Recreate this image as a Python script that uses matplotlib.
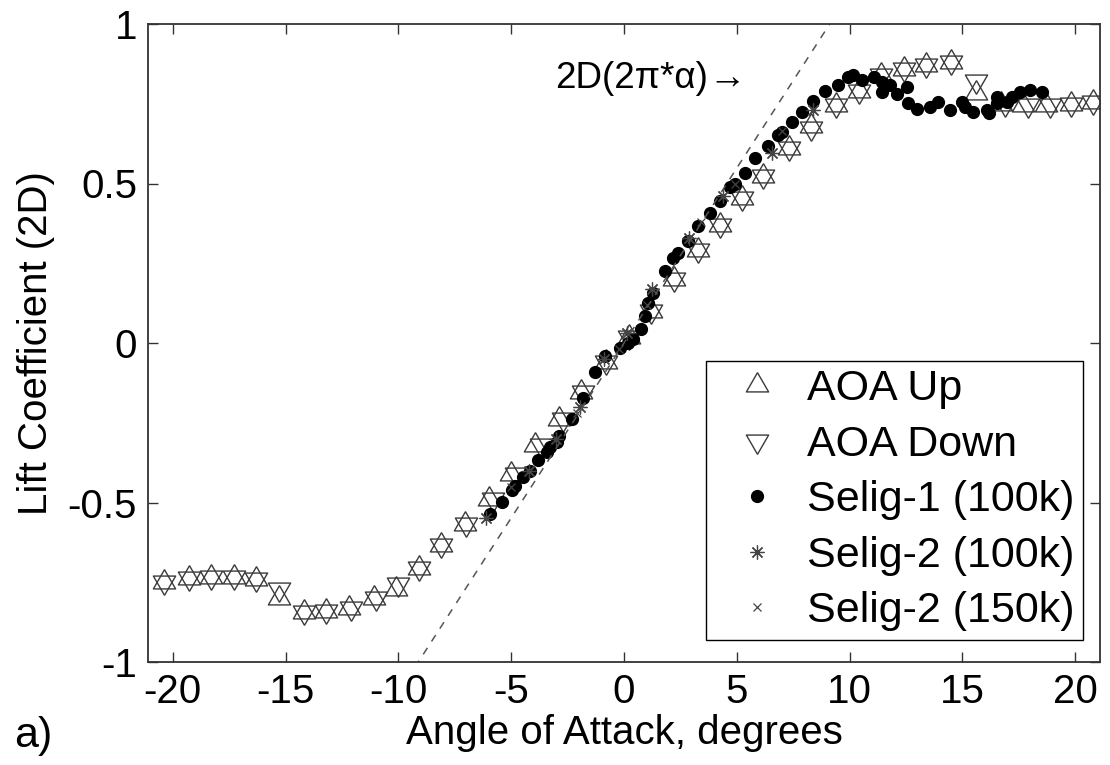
import matplotlib
matplotlib.use("Agg")
import matplotlib.pyplot as plt
import numpy as np

plt.rcParams['font.family'] = ['Liberation Sans', 'DejaVu Sans']
plt.rcParams['axes.unicode_minus'] = False

# wind tunnel sweeps (angle of attack in degrees, lift coefficient)
aoa_up_x = [-20.4, -19.3, -18.3, -17.3, -16.3, -15.3, -14.2, -13.2, -12.2, -11.1,
            -10.1, -9.1, -8.1, -7.05, -6.0, -5.0, -3.95, -2.9, -1.9, -0.8,
            0.2, 1.2, 2.2, 3.3, 4.26, 5.22, 6.15, 7.3, 8.3, 9.4,
            10.4, 11.4, 12.4, 13.4, 14.5, 15.6, 16.7, 17.7, 18.7, 19.8, 20.8]
aoa_up_cl = [-0.750, -0.738, -0.733, -0.735, -0.740, -0.800, -0.843, -0.840, -0.832, -0.800,
             -0.770, -0.704, -0.634, -0.567, -0.490, -0.410, -0.320, -0.238, -0.155, -0.060,
             0.020, 0.100, 0.200, 0.290, 0.370, 0.455, 0.525, 0.610, 0.680, 0.745,
             0.790, 0.840, 0.860, 0.870, 0.880, 0.785, 0.750, 0.745, 0.745, 0.750, 0.755]

aoa_down_x = [-20.4, -19.3, -18.3, -17.3, -16.3, -15.3, -14.2, -13.2, -12.1, -11.0,
              -10.0, -9.1, -8.1, -7.0, -5.8, -4.8, -3.7, -2.7, -1.8, -0.8,
              0.2, 1.2, 2.2, 3.3, 4.26, 5.22, 6.15, 7.3, 8.3, 9.4,
              10.4, 11.4, 12.4, 13.4, 14.5, 15.6, 16.9, 17.9, 18.9, 19.8, 20.8]
aoa_down_cl = [-0.750, -0.738, -0.733, -0.735, -0.740, -0.770, -0.843, -0.840, -0.832, -0.800,
               -0.755, -0.704, -0.634, -0.567, -0.490, -0.410, -0.320, -0.238, -0.155, -0.060,
               0.020, 0.100, 0.200, 0.290, 0.370, 0.455, 0.525, 0.610, 0.675, 0.745,
               0.790, 0.840, 0.860, 0.870, 0.880, 0.820, 0.750, 0.745, 0.745, 0.750, 0.755]

selig1_x = [-5.94, -5.42, -4.98, -4.83, -4.47, -4.17, -3.80, -3.43, -3.28, -2.98,
            -2.87, -2.32, -1.80, -1.29, -0.84, -0.18, 0.19, 0.41, 0.75, 0.93,
            1.08, 1.30, 1.82, 2.19, 2.41, 2.85, 3.30, 3.81, 4.26, 4.70,
            4.92, 5.37, 5.81, 6.40, 6.84, 7.00, 7.44, 7.88, 8.40, 8.91,
            9.50, 9.95, 10.17, 10.54, 11.06, 11.43, 11.43, 11.80, 12.09, 12.54,
            12.61, 12.98, 13.57, 13.94, 14.46, 14.97, 15.12, 15.49, 16.08, 16.16,
            16.53, 16.53, 16.97, 17.19, 17.56, 18.00, 18.52]
selig1_cl = [-0.535, -0.497, -0.462, -0.447, -0.420, -0.400, -0.366, -0.343, -0.327, -0.310,
             -0.290, -0.238, -0.171, -0.090, -0.040, -0.015, 0.001, 0.011, 0.043, 0.084,
             0.126, 0.157, 0.225, 0.267, 0.282, 0.319, 0.366, 0.407, 0.444, 0.490,
             0.500, 0.532, 0.579, 0.616, 0.652, 0.660, 0.694, 0.725, 0.760, 0.790,
             0.810, 0.834, 0.840, 0.824, 0.834, 0.819, 0.788, 0.808, 0.782, 0.803,
             0.751, 0.735, 0.741, 0.756, 0.730, 0.756, 0.741, 0.725, 0.730, 0.720,
             0.772, 0.751, 0.756, 0.772, 0.788, 0.793, 0.788]

selig2_100_x = [-6.1, -4.2, -3.0, -1.95, -0.9, 0.12, 1.23, 2.9, 4.4, 6.54, 8.4]
selig2_100_cl = [-0.550, -0.400, -0.300, -0.200, -0.050, 0.030, 0.168, 0.330, 0.460, 0.595, 0.730]

selig2_150_x = [-5.0, -2.1, -0.2, 1.0, 3.4, 4.9, 7.0]
selig2_150_cl = [-0.450, -0.220, -0.020, 0.120, 0.380, 0.500, 0.665]

# triangles centred on their centroid so up+down overlap into a star
tri_up = [(0, 1), (-0.866, -0.5), (0.866, -0.5), (0, 1)]
tri_down = [(0, -1), (-0.866, 0.5), (0.866, 0.5), (0, -1)]

fig = plt.figure(figsize=(11.1, 7.65), dpi=100)
ax = fig.add_axes([148 / 1110, 1 - 662 / 765, 952 / 1110, 638 / 765])

tri_kw = dict(linestyle='none', markersize=18.5, markerfacecolor='none',
              markeredgecolor='#3a3a3a', markeredgewidth=1.0)
ax.plot(aoa_up_x, aoa_up_cl, marker=tri_up, label='AOA Up', **tri_kw)
ax.plot(aoa_down_x, aoa_down_cl, marker=tri_down, label='AOA Down', **tri_kw)
ax.plot(selig1_x, selig1_cl, 'o', color='black', markersize=8.5, label='Selig-1 (100k)')
ax.plot(selig2_100_x, selig2_100_cl, linestyle='none', marker=(8, 2, 0), color='#444444',
        markersize=10, markeredgewidth=0.9, label='Selig-2 (100k)')
ax.plot(selig2_150_x, selig2_150_cl, 'x', color='#444444', markersize=6,
        markeredgewidth=0.9, label='Selig-2 (150k)')

# thin airfoil theory line
alpha = np.linspace(-10, 10, 50)
ax.plot(alpha, 2 * np.pi * np.radians(alpha), '--', color='#555555', linewidth=1.1,
        dashes=(5, 5))
ax.text(-3.06, 0.83, '2D(2π*α)', fontsize=26.5, ha='left', va='center')
ax.text(3.75, 0.83, '→', fontsize=27, ha='left', va='center')

ax.set_xlim(-21.1, 21.1)
ax.set_ylim(-1, 1)
ax.set_xticks([-20, -15, -10, -5, 0, 5, 10, 15, 20])
ax.set_yticks([-1, -0.5, 0, 0.5, 1])
ax.set_yticklabels(['-1', '-0.5', '0', '0.5', '1'])
ax.tick_params(direction='in', top=True, right=True, length=7, width=1,
               labelsize=29, pad=8, color='#333333')
ax.set_xlabel('Angle of Attack, degrees', fontsize=29, labelpad=2)
ax.set_ylabel('Lift Coefficient (2D)', fontsize=29)
ax.yaxis.set_label_coords(-0.098, 0.5)
for s in ax.spines.values():
    s.set_linewidth(1.3)
    s.set_color('#333333')

leg = ax.legend(loc='lower right', bbox_to_anchor=(0.982, 0.0345), borderaxespad=0,
                fontsize=31, fancybox=False, edgecolor='black', framealpha=1,
                handlelength=2.0, handletextpad=0.15, labelspacing=0.36, borderpad=0.2)
leg.get_frame().set_linewidth(1.0)

fig.text(0.013, 0.012, 'a)', fontsize=31, ha='left', va='bottom')

fig.savefig('out.png', dpi=100)
